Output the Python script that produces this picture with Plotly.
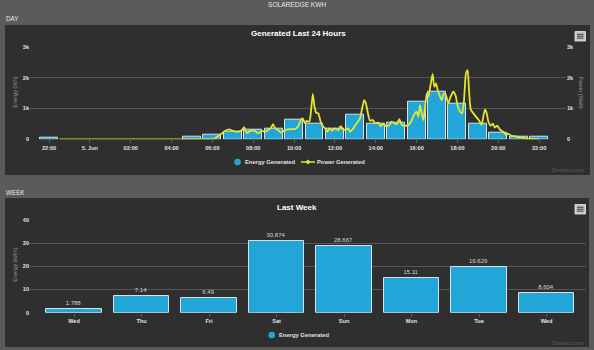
import plotly.graph_objects as go

W, H = 594, 350

# ---------------- data ----------------
page_title = "SOLAREDGE KWH"
day_section = "DAY"
week_section = "WEEK"
day_title = "Generated Last 24 Hours"
week_title = "Last Week"
energy_name = "Energy Generated"
power_name = "Power Generated"
day_left_title = "Energy (Wh)"
day_right_title = "Power (Watt)"
week_y_title = "Energy (kWh)"
credit = "Domoticz.com"

energy_hours = ["2019-06-04 22:00", "2019-06-04 23:00"] + [
    "2019-06-05 %02d:00" % h for h in range(0, 23)
]
energy_wh = [55, 0, 0, 0, 0, 0, 0, 75, 150, 240, 300, 330, 620, 490, 350,
             790, 490, 530, 1220, 1550, 1140, 490, 210, 80, 75]

power_clock = [
    "02:00", "05:45",
    "06:00", "06:17", "06:37", "06:49", "07:01", "07:12", "07:27", "07:33", "07:42", "07:50",
    "08:05", "08:14", "08:26", "08:35", "08:43", "08:52", "08:58", "09:04", "09:13", "09:22",
    "09:33", "09:48", "10:03", "10:12", "10:20", "10:25", "10:32", "10:37", "10:45", "10:50",
    "10:55", "11:00", "11:05", "11:11", "11:18", "11:24", "11:31", "11:38", "11:44", "11:51",
    "12:00", "12:10", "12:17", "12:25", "12:33", "12:39", "12:44", "12:54", "13:04", "13:14",
    "13:19", "13:26", "13:31", "13:38", "13:43", "13:51", "13:58", "14:08", "14:14", "14:22",
    "14:30", "14:40", "14:47", "14:54", "15:02", "15:09", "15:16", "15:26", "15:36", "15:46",
    "15:52", "16:00", "16:05", "16:10", "16:15", "16:20", "16:25", "16:30", "16:35", "16:41",
    "16:47", "16:52", "16:57", "17:02", "17:07", "17:14", "17:20", "17:26", "17:33", "17:40",
    "17:48", "17:55", "18:00", "18:08", "18:14", "18:19", "18:25", "18:30", "18:34", "18:39",
    "18:47", "18:56", "19:04", "19:11", "19:16", "19:21", "19:26", "19:31", "19:38", "19:44",
    "19:50", "19:57", "20:05", "20:15", "20:23", "20:29", "20:40", "20:49", "20:59", "21:09",
    "21:23", "21:33", "22:00",
]
power_w = [
    0, 0,
    0, 100, 270, 320, 270, 240, 300, 390, 200, 270,
    270, 200, 270, 240, 300, 365, 490, 365, 300, 215,
    300, 330, 330, 420, 640, 680, 520, 600, 570, 950,
    1470, 1055, 860, 840, 570, 430, 355, 245, 355, 280,
    355, 300, 430, 300, 325, 355, 245, 355, 520, 680,
    950, 1270, 1165, 785, 600, 625, 520, 540, 430, 495,
    430, 465, 570, 520, 495, 650, 480, 440, 460, 625,
    785, 895, 730, 1110, 840, 625, 1055, 1490, 1380, 1760,
    2115, 1700, 1810, 1595, 1435, 1270, 1490, 1435, 1165, 1380,
    1540, 1400, 1110, 895, 840, 1215, 2135, 2240, 1595, 970,
    840, 710, 600, 465, 730, 970, 840, 570, 440, 510,
    380, 440, 310, 240, 140, 185, 105, 105, 65, 65,
    20, 10, 0,
]
power_times = ["2019-06-04 22:30"] + ["2019-06-05 " + c for c in power_clock]
power_w = [0] + power_w

day_tick_times = ["2019-06-04 22:00"] + ["2019-06-05 %02d:00" % h for h in range(0, 23, 2)]
day_tick_labels = ["22:00", "5. Jun", "02:00", "04:00", "06:00", "08:00", "10:00",
                   "12:00", "14:00", "16:00", "18:00", "20:00", "22:00"]
day_y_ticks = [0, 1000, 2000, 3000]
day_y_labels = ["0", "1k", "2k", "3k"]

week_days = ["Wed", "Thu", "Fri", "Sat", "Sun", "Mon", "Tue", "Wed"]
week_kwh = [1.788, 7.14, 6.49, 30.874, 28.667, 15.11, 19.629, 8.604]
week_y_ticks = [0, 10, 20, 30, 40]

# ---------------- style ----------------
BLUE = "#22a6d8"
BAR_EDGE = "#d6e2e8"
YEL = "#e4e431"
PANEL = "#2f2f2f"
BG = "#5b5b5b"
GRID = "#565656"
TXT = "#e2e2e2"
FONT = "Liberation Sans, Arial, sans-serif"


def px(x):
    return x / W


def py(y):
    return 1 - y / H


fig = go.Figure()

# zero-hour bars are not drawn in the reference: give them no height at all
energy_plot = [v if v > 0 else None for v in energy_wh]

fig.add_trace(go.Bar(
    x=energy_hours, y=energy_plot, name=energy_name,
    width=0.88 * 3600 * 1000,
    marker=dict(color=BLUE, line=dict(color=BAR_EDGE, width=1)),
    xaxis="x", yaxis="y", hoverinfo="skip",
))
fig.add_trace(go.Scatter(
    x=power_times, y=power_w, name=power_name, mode="lines",
    line=dict(color=YEL, width=1.8, shape="spline", smoothing=0.5),
    xaxis="x", yaxis="y2", hoverinfo="skip",
))
fig.add_trace(go.Bar(
    x=list(range(len(week_days))), y=week_kwh, name=energy_name,
    text=[str(v) for v in week_kwh], textposition="outside",
    textfont=dict(size=6, color="#d4d4d4", family=FONT),
    constraintext="none", cliponaxis=False,
    width=0.825,
    marker=dict(color=BLUE, line=dict(color=BAR_EDGE, width=1)),
    xaxis="x3", yaxis="y3", hoverinfo="skip",
))

tickfont = dict(size=5.6, color=TXT, family=FONT, weight="bold")

fig.update_layout(
    width=W, height=H, autosize=False,
    margin=dict(l=0, r=0, t=0, b=0),
    paper_bgcolor=BG, plot_bgcolor="rgba(0,0,0,0)",
    font=dict(family=FONT, color=TXT, size=6),
    showlegend=False, bargap=0,
    xaxis=dict(
        domain=[px(30), px(566)], type="date",
        range=["2019-06-04 21:04", "2019-06-05 23:19"],
        tickmode="array", tickvals=day_tick_times, ticktext=day_tick_labels,
        showgrid=False, zeroline=False, showline=False, automargin=False,
        ticks="outside", ticklen=3, tickcolor="#5e5e5e", tickfont=tickfont,
        anchor="y", fixedrange=True,
    ),
    yaxis=dict(
        domain=[py(139.3), py(46.7)], range=[0, 3000],
        tickmode="array", tickvals=day_y_ticks, ticktext=day_y_labels,
        showgrid=True, gridcolor=GRID, gridwidth=1.2, zeroline=False,
        automargin=False, tickfont=tickfont, anchor="x", fixedrange=True,
    ),
    yaxis2=dict(
        overlaying="y", side="right", range=[0, 3000],
        tickmode="array", tickvals=day_y_ticks, ticktext=day_y_labels,
        showgrid=False, zeroline=False, tickfont=tickfont, automargin=False,
        anchor="x", fixedrange=True,
    ),
    xaxis3=dict(
        domain=[px(30), px(586)], range=[-0.652, 7.585],
        tickmode="array", tickvals=list(range(len(week_days))), ticktext=week_days,
        showgrid=False, zeroline=False, showline=False, automargin=False,
        ticks="outside", ticklen=3, tickcolor="#5e5e5e", tickfont=tickfont,
        anchor="y3", fixedrange=True,
    ),
    yaxis3=dict(
        domain=[py(312.7), py(220)], range=[0, 40],
        tickmode="array", tickvals=week_y_ticks,
        showgrid=True, gridcolor=GRID, gridwidth=1.2, zeroline=False,
        automargin=False, tickfont=tickfont, anchor="x3", fixedrange=True,
    ),
)

shapes = []
# panels
shapes.append(dict(type="rect", xref="paper", yref="paper", layer="below",
                   x0=px(5), x1=px(590), y0=py(175), y1=py(25),
                   fillcolor=PANEL, line=dict(width=0)))
shapes.append(dict(type="rect", xref="paper", yref="paper", layer="below",
                   x0=px(5), x1=px(589), y0=py(347), y1=py(198),
                   fillcolor=PANEL, line=dict(width=0)))


def menu_icon(x0, y0, x1, y1):
    out = [dict(type="rect", xref="paper", yref="paper",
                x0=px(x0), x1=px(x1), y0=py(y1), y1=py(y0),
                fillcolor="#c4c4c4", line=dict(color="#e6e6e6", width=0.8))]
    h = y1 - y0
    for f in (0.3, 0.5, 0.7):
        yy = y0 + h * f
        out.append(dict(type="line", xref="paper", yref="paper",
                        x0=px(x0 + 2), x1=px(x1 - 2), y0=py(yy), y1=py(yy),
                        line=dict(color="#555555", width=1.2)))
    return out


shapes += menu_icon(575, 31.5, 585.5, 41)
shapes += menu_icon(575, 204.5, 585.5, 214)


def circle(cx, cy, r, color):
    return dict(type="circle", xref="paper", yref="paper",
                x0=px(cx - r), x1=px(cx + r), y0=py(cy + r), y1=py(cy - r),
                fillcolor=color, line=dict(width=0))


# legend symbols
shapes.append(circle(237.5, 162, 3.3, BLUE))
shapes.append(dict(type="line", xref="paper", yref="paper",
                   x0=px(301), x1=px(315), y0=py(162), y1=py(162),
                   line=dict(color=YEL, width=1.5)))
shapes.append(dict(type="path", xref="paper", yref="paper",
                   path="M %f %f L %f %f L %f %f L %f %f Z" % (
                       px(308), py(159.5), px(310.5), py(162), px(308), py(164.5), px(305.5), py(162)),
                   fillcolor=YEL, line=dict(width=0)))
shapes.append(circle(271.7, 335, 3.3, BLUE))

fig.update_layout(shapes=shapes)

ann = []


def text(x, y, s, size, color=TXT, xanchor="center", angle=0, bold=False):
    ann.append(dict(xref="paper", yref="paper", x=px(x), y=py(y),
                    text=("<b>%s</b>" % s) if bold else s, showarrow=False,
                    xanchor=xanchor, yanchor="middle", textangle=angle,
                    font=dict(size=size, color=color, family=FONT), borderpad=0))


text(297, 5, page_title, 6.6, "#e8e8e8")
text(5, 19, day_section, 6.3, "#e8e8e8", xanchor="left")
text(5, 192, week_section, 6.3, "#e8e8e8", xanchor="left")
text(298, 33.5, day_title, 8, "#ffffff", bold=True)
text(297, 207, week_title, 8, "#ffffff", bold=True)
text(14.7, 92, day_left_title, 5.6, "#9a9a9a", angle=-90)
text(580.5, 93, day_right_title, 5.6, "#9a9a9a", angle=90)
text(14.7, 265, week_y_title, 5.6, "#9a9a9a", angle=-90)
text(243.5, 162, energy_name, 5.8, TXT, xanchor="left", bold=True)
text(316, 162, power_name, 5.8, TXT, xanchor="left", bold=True)
text(277.5, 335, energy_name, 5.8, TXT, xanchor="left", bold=True)
text(585, 170, credit, 5, "#5e5e5e", xanchor="right")
text(585, 343, credit, 5, "#5e5e5e", xanchor="right")

fig.update_layout(annotations=ann)

fig.write_html("out.html")
